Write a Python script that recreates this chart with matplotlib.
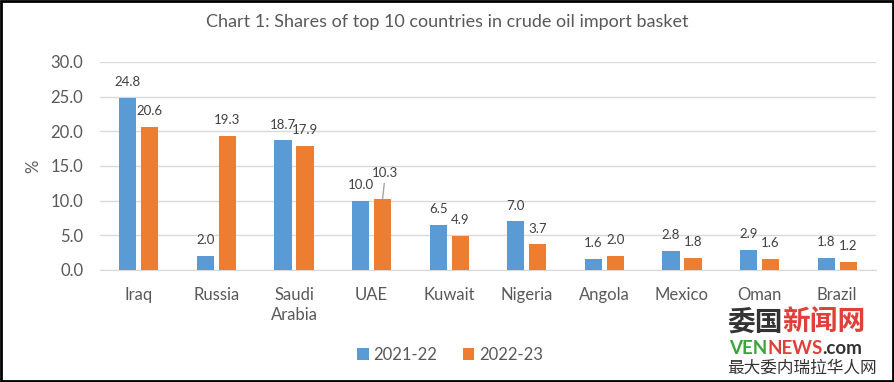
import matplotlib
matplotlib.use("Agg")
import matplotlib.pyplot as plt
import numpy as np
from matplotlib.patches import Rectangle

plt.rcParams['font.family'] = ['Lato', 'Noto Sans CJK SC', 'DejaVu Sans']

countries = ["Iraq", "Russia", "Saudi\nArabia", "UAE", "Kuwait", "Nigeria", "Angola", "Mexico", "Oman", "Brazil"]
s2122 = [24.8, 2.0, 18.7, 10.0, 6.5, 7.0, 1.6, 2.8, 2.9, 1.8]
s2223 = [20.6, 19.3, 17.9, 10.3, 4.9, 3.7, 2.0, 1.8, 1.6, 1.2]
series_names = ["2021-22", "2022-23"]
yticks = [0, 5, 10, 15, 20, 25, 30]

blue = "#5B9BD5"
orange = "#ED7D31"
tc = "#595959"

fig = plt.figure(figsize=(8.95, 3.82), dpi=100)
ax = fig.add_axes([100/895, 1-270/382, 776/895, 208/382])

x = np.arange(len(countries))
w = 0.22
off = 0.142
b1 = ax.bar(x - off, s2122, w, color=blue, label=series_names[0], zorder=3)
b2 = ax.bar(x + off, s2223, w, color=orange, label=series_names[1], zorder=3)

ax.set_xlim(-0.5, len(countries) - 0.5)
ax.set_ylim(0, 30)
ax.set_yticks(yticks)
ax.set_yticklabels([f"{v:.1f}" for v in yticks], fontsize=12, color=tc)
ax.set_xticks(x)
ax.set_xticklabels(countries, fontsize=12, color=tc, linespacing=1.35, va='top')
ax.tick_params(axis='both', length=0)
ax.tick_params(axis='y', pad=12)
ax.tick_params(axis='x', pad=12)
ax.grid(axis='y', color='#D9D9D9', linewidth=1, zorder=0)
for s in ['top', 'right', 'left']:
    ax.spines[s].set_visible(False)
ax.spines['bottom'].set_color('#D9D9D9')
ax.set_ylabel("%", fontsize=12, color=tc, labelpad=7)

for i, v in enumerate(s2122):
    ax.annotate(f"{v:.1f}", (x[i] - off, v), xytext=(0, 7), textcoords='offset points',
                ha='center', va='bottom', fontsize=9.5, color='#404040')
for i, v in enumerate(s2223):
    if i == 3:
        ax.annotate(f"{v:.1f}", (x[i] + off, v), xytext=(2, 14), textcoords='offset points',
                    ha='center', va='bottom', fontsize=9.5, color='#404040',
                    arrowprops=dict(arrowstyle='-', color='#A6A6A6', lw=1, shrinkA=1, shrinkB=0))
    else:
        ax.annotate(f"{v:.1f}", (x[i] + off, v), xytext=(0, 7), textcoords='offset points',
                    ha='center', va='bottom', fontsize=9.5, color='#404040')

fig.text(447/895, 1-22/382, "Chart 1: Shares of top 10 countries in crude oil import basket",
         ha='center', va='center', fontsize=13, color=tc)

leg = fig.legend(handles=[b1, b2], loc='center', bbox_to_anchor=(450/895, 1-355/382),
                 ncol=2, frameon=False, fontsize=12, handlelength=0.7, handleheight=0.7,
                 columnspacing=1.5, handletextpad=0.3)
for t in leg.get_texts():
    t.set_color(tc)

# watermark
fig.canvas.draw()
r = fig.canvas.get_renderer()

def chain(x0, y0, parts, fs, weight):
    xp = x0
    for txt, col in parts:
        t = fig.text(xp / 895, 1 - y0 / 382, txt, fontsize=fs, color=col, weight=weight,
                     va='center', ha='left')
        bb = t.get_window_extent(renderer=r)
        xp += bb.width

chain(727, 322, [("委国", '#333333'), ("新闻网", '#E0403A')], 20, 'bold')
chain(729, 348, [("VEN", '#3BA53B'), ("NEWS", '#E0403A'), (".com", '#333333')], 13.5, 'bold')
fig.text(727/895, 1-368/382, "最大委内瑞拉华人网", fontsize=12, color='#333333', va='center', ha='left')

fig.patches.append(Rectangle((0.001, 0.002), 0.997, 0.995, transform=fig.transFigure,
                             fill=False, edgecolor='black', linewidth=2))

fig.savefig("out.png", dpi=100)
